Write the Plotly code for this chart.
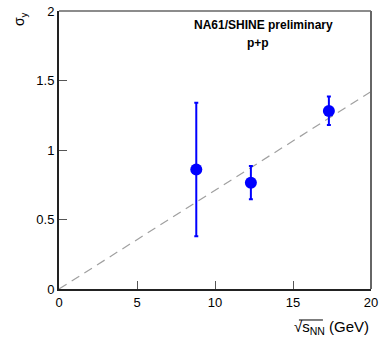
import plotly.graph_objects as go

sqrt_s = [8.8, 12.3, 17.3]
sigma_y = [0.86, 0.765, 1.28]
err_up = [0.48, 0.12, 0.105]
err_down = [0.48, 0.12, 0.10]
line_x = [0, 20]
line_y = [0, 1.42]

fig = go.Figure()
fig.add_trace(go.Scatter(x=line_x, y=line_y, mode="lines",
                         line=dict(color="#a0a0a0", width=1.2, dash="9px,6px"),
                         hoverinfo="skip", showlegend=False))
fig.add_trace(go.Scatter(x=sqrt_s, y=sigma_y, mode="markers",
                         marker=dict(color="#0000ff", size=12),
                         error_y=dict(type="data", symmetric=False, array=err_up,
                                      arrayminus=err_down, color="#0000ff",
                                      thickness=2, width=2),
                         showlegend=False))

axis_font = dict(family="Liberation Sans, Arial, sans-serif", size=13, color="black")
fig.update_layout(
    width=380, height=338,
    margin=dict(l=59, r=9, t=11, b=49, autoexpand=False),
    paper_bgcolor="white", plot_bgcolor="white",
    font=axis_font,
    xaxis=dict(range=[0, 20], tickvals=[0, 5, 10, 15, 20], ticks="inside", ticklen=8,
               tickcolor="#555", showgrid=False, zeroline=False, showline=True, automargin=False,
               linecolor="#222", linewidth=2, mirror=False, tickfont=axis_font),
    yaxis=dict(range=[0, 2], tickvals=[0, 0.5, 1, 1.5, 2], ticktext=["0", "0.5", "1", "1.5", "2"],
               ticks="inside", ticklen=8, tickcolor="#555", showgrid=False, zeroline=False,
               automargin=False,
               showline=True, linecolor="#222", linewidth=2, tickfont=axis_font),
    shapes=[
        dict(type="line", xref="paper", yref="paper", x0=0, x1=1, y0=1, y1=1,
             line=dict(color="#666", width=1.5)),
        dict(type="line", xref="paper", yref="paper", x0=1, x1=1, y0=0, y1=1,
             line=dict(color="#666", width=2)),
        dict(type="line", xref="paper", yref="paper", x0=0.769, x1=0.846, y0=-0.1115, y1=-0.1115,
             line=dict(color="black", width=1)),
    ],
    annotations=[
        dict(text="<b>NA61/SHINE preliminary</b>", xref="paper", yref="paper",
             x=0.654, y=0.950, xanchor="center", yanchor="middle", showarrow=False,
             font=dict(size=12, family="Liberation Sans, Arial")),
        dict(text="<b>p+p</b>", xref="paper", yref="paper",
             x=0.638, y=0.885, xanchor="center", yanchor="middle", showarrow=False,
             font=dict(size=12, family="Liberation Sans, Arial")),
        dict(text="σ<sub>y</sub>", xref="paper", yref="paper", x=-0.125, y=0.971,
             xanchor="center", yanchor="middle",
             textangle=-90, showarrow=False, font=dict(size=14, family="Liberation Sans, Arial")),
        dict(text="√s<sub>NN</sub> (GeV)", xref="paper", yref="paper", x=1.0, y=-0.137,
             xanchor="right", yanchor="middle", showarrow=False,
             font=dict(size=15, family="Liberation Sans, Arial")),
    ],
)
fig.write_html("out.html")
